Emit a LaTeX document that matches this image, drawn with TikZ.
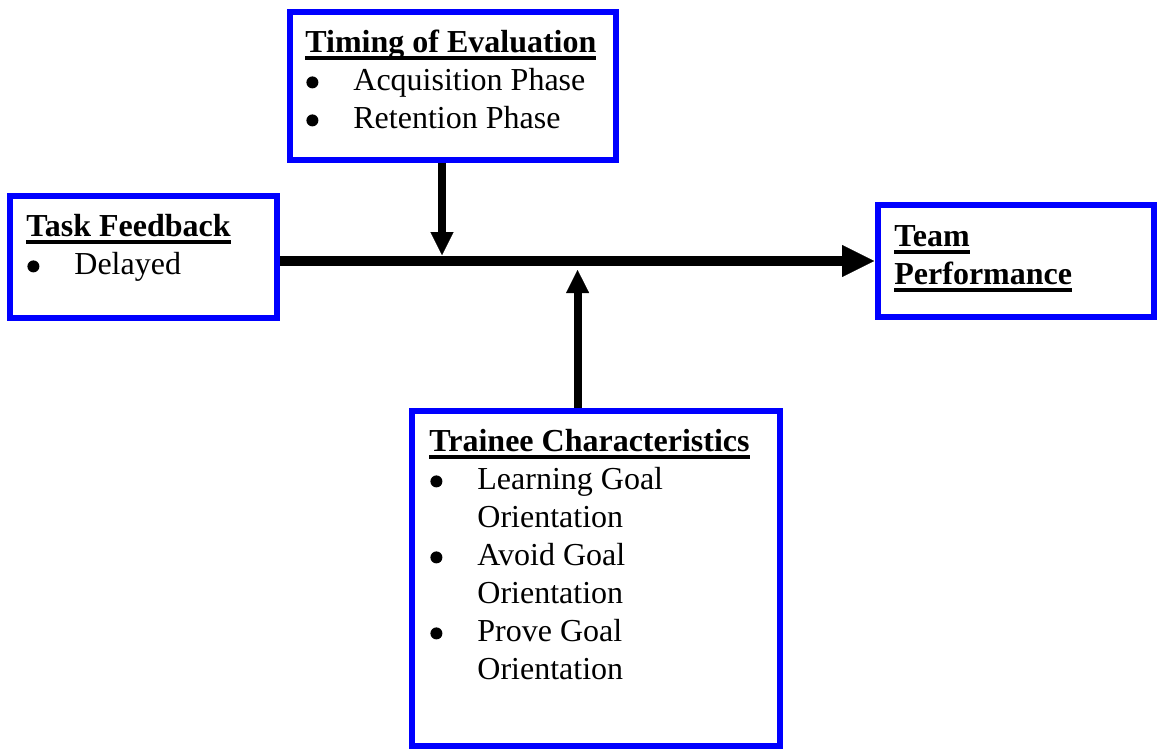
\documentclass[tikz,border=0pt]{standalone}
\usepackage{fontspec}
\setmainfont{Liberation Serif}
\usepackage{tikz}
\usetikzlibrary{arrows.meta}
\pgfdeclarelayer{background}
\pgfsetlayers{background,main}

\newcommand{\ulhead}[1]{\setbox0\hbox{\bfseries #1}\rlap{\rule[-3.6pt]{\wd0}{1.8pt}}\box0}
\newcommand{\bul}{\makebox[24pt][l]{\hspace{0.5pt}\raisebox{1pt}{\tikz\fill (0,0) circle (3pt);}}}
\newcommand{\ind}{\hspace*{24pt}}

\begin{document}
\begin{tikzpicture}[x=0.5pt,y=-0.5pt,
  box/.style={draw=blue,line width=3pt,fill=none,inner sep=0pt,anchor=north west},
  txt/.style={anchor=north west,inner sep=0pt,align=left,font=\fontsize{16pt}{19pt}\selectfont},
  mainarr/.style={line width=5pt,-{Triangle[length=16pt,width=16pt,line width=0.1pt]},shorten >=0.5pt},
  modarr/.style={line width=4pt,-{Triangle[length=11.5pt,width=11.5pt,line width=0.1pt]}}]
\useasboundingbox (0,0) rectangle (1157,750);
% boxes
\node[box,minimum width=163pt,minimum height=74pt] (timing) at (287,9) {};
\node[box,minimum width=133.5pt,minimum height=61pt] (feedback) at (7,193) {};
\node[box,minimum width=138pt,minimum height=56pt] (perf) at (875,202) {};
\node[box,minimum width=184pt,minimum height=167.5pt] (trainee) at (409,408) {};
% texts
\node[txt] (timingtxt) at (305,28) {\rule{0pt}{12pt}\ulhead{Timing of Evaluation}\\
  \bul Acquisition Phase\\
  \bul Retention Phase};
\node[txt] (feedbacktxt) at (26,212) {\rule{0pt}{12pt}\ulhead{Task Feedback}\\
  \bul Delayed};
\node[txt] (perftxt) at (894,222) {\rule{0pt}{12pt}\ulhead{Team}\\
  \ulhead{Performance}};
\node[txt] (traineetxt) at (429,427) {\rule{0pt}{12pt}\ulhead{Trainee Characteristics}\\
  \bul Learning Goal\\
  \ind Orientation\\
  \bul Avoid Goal\\
  \ind Orientation\\
  \bul Prove Goal\\
  \ind Orientation};
% arrows
\begin{pgfonlayer}{background}
\draw[mainarr] (feedback.east |- perf.west) -- (perf.west);
\draw[modarr,shorten >=3pt] ([xshift=-5.5pt]timing.south) -- ([xshift=-5.5pt]timing.south |- perf.west);
\draw[modarr,shorten >=4.5pt] ([xshift=-9.2pt]trainee.north) -- ([xshift=-9.2pt]trainee.north |- perf.west);
\end{pgfonlayer}
\end{tikzpicture}
\end{document}
